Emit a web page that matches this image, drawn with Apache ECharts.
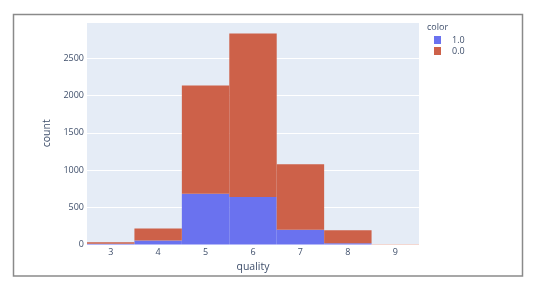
<!DOCTYPE html>
<html>
<head>
<meta charset="utf-8">
<script src="https://cdn.jsdelivr.net/npm/echarts@6/dist/echarts.min.js"></script>
<style>html,body{margin:0;padding:0;background:#fff}#c{width:538px;height:294px}</style>
</head>
<body>
<div id="c"></div>
<script>
var categories = ['3', '4', '5', '6', '7', '8', '9'];
var red1 = [10, 53, 681, 638, 199, 18, 0];      // color 1.0
var white0 = [20, 163, 1457, 2198, 880, 175, 5]; // color 0.0
var yTicks = [0, 500, 1000, 1500, 2000, 2500];

var chart = echarts.init(document.getElementById('c'), null, {renderer: 'canvas'});
var font = '"Open Sans", "Noto Sans", sans-serif';
var txt = '#3f4f6b';
chart.setOption({
  animation: false,
  backgroundColor: '#ffffff',
  grid: {left: 87, right: 119, top: 22, bottom: 49.5, backgroundColor: '#E5ECF6', show: true, borderWidth: 0},
  graphic: [
    {type: 'rect', shape: {x: 13.5, y: 14.5, width: 509, height: 261.5}, style: {fill: 'none', stroke: '#8a8a8a', lineWidth: 1.5}, silent: true, z: 100},
    {type: 'text', left: 427, top: 23, style: {text: 'color', fontSize: 9, fill: txt, fontFamily: font}}
  ],
  legend: {
    orient: 'vertical', left: 434, top: 34.5, padding: 0, itemWidth: 7, itemHeight: 8, itemGap: 0,
    icon: 'rect',
    textStyle: {fontSize: 9, lineHeight: 11, color: txt, fontFamily: font, padding: [0, 0, 0, 6]},
    data: ['1.0', '0.0']
  },
  xAxis: {
    type: 'category', data: categories,
    name: 'quality', nameLocation: 'middle', nameGap: 15,
    nameTextStyle: {fontSize: 10.5, color: txt, fontFamily: font},
    axisLine: {show: false}, axisTick: {show: false},
    axisLabel: {fontSize: 9, color: txt, margin: 3, fontFamily: font},
    splitLine: {show: false}
  },
  yAxis: {
    type: 'value', min: 0, max: 2990, interval: 500,
    name: 'count', nameLocation: 'middle', nameGap: 29,
    nameTextStyle: {fontSize: 10.5, color: txt, fontFamily: font},
    axisLine: {show: false}, axisTick: {show: false},
    axisLabel: {fontSize: 9, color: txt, margin: 3, fontFamily: font,
      formatter: function (v) { return yTicks.indexOf(v) >= 0 ? String(v) : ''; }},
    splitLine: {lineStyle: {color: '#ffffff', width: 1}}
  },
  series: [
    {name: '1.0', type: 'bar', stack: 'a', data: red1, barWidth: '100%',
      itemStyle: {color: '#6a72ef'}},
    {name: '0.0', type: 'bar', stack: 'a', data: white0, barWidth: '100%',
      itemStyle: {color: '#cd6149'}}
  ]
});
</script>
</body>
</html>
